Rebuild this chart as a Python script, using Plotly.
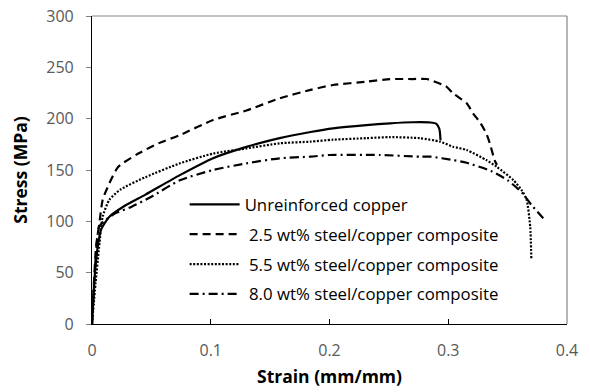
import plotly.graph_objects as go

# Tensile stress-strain curves
strain_cu = [0, 0.002, 0.0048, 0.0076, 0.0146, 0.026, 0.045, 0.074, 0.102, 0.130,
             0.158, 0.184, 0.203, 0.231, 0.251, 0.27, 0.285, 0.290, 0.2925, 0.2935]
stress_cu = [0, 43, 75, 92, 104.5, 114, 126, 145, 161.5, 172.5,
             181, 187, 190.6, 193.8, 195.5, 196.5, 196.3, 195, 190, 179]

strain_25 = [0, 0.0034, 0.0062, 0.009, 0.0146, 0.022, 0.039, 0.056, 0.074, 0.102,
             0.130, 0.158, 0.184, 0.203, 0.231, 0.251, 0.27, 0.282, 0.2987, 0.304,
             0.3155, 0.321, 0.327, 0.332, 0.335, 0.339, 0.341]
stress_25 = [0, 75, 98, 121, 137, 153, 166, 176, 184, 198.7,
             208, 219.8, 228, 232.8, 236, 238.5, 238.6, 238.6, 231, 224.7,
             215, 205, 196, 185.7, 176, 159.7, 155]

strain_55 = [0, 0.003, 0.006, 0.009, 0.0146, 0.024, 0.045, 0.074, 0.102, 0.130,
             0.158, 0.184, 0.203, 0.231, 0.251, 0.276, 0.293, 0.304, 0.3155, 0.332,
             0.341, 0.355, 0.362, 0.366, 0.369, 0.370]
stress_55 = [0, 40, 75, 104.5, 121, 131, 143, 156.5, 166, 171,
             176, 177.6, 179.5, 181, 182, 181, 177.6, 172.7, 169.5, 159.7,
             153, 140, 130, 121, 94.8, 62.3]

strain_80 = [0, 0.0034, 0.006, 0.01, 0.02, 0.033, 0.05, 0.074, 0.102, 0.130,
             0.158, 0.184, 0.2, 0.2425, 0.276, 0.285, 0.304, 0.3155, 0.336, 0.35,
             0.362, 0.37, 0.38]
stress_80 = [0, 69, 94.8, 100, 108, 114, 124, 140, 150, 156.5,
             161.4, 163, 164.6, 164.6, 163, 163, 159.7, 157, 149, 140,
             128, 116, 103]

series_names = ["Unreinforced copper",
                "\u00a02.5 wt% steel/copper composite",
                "\u00a05.5 wt% steel/copper composite",
                "\u00a08.0 wt% steel/copper composite"]

x_ticks = [0, 0.1, 0.2, 0.3, 0.4]
x_tick_text = ["0", "0.1", "0.2", "0.3", "0.4"]
y_ticks = [0, 50, 100, 150, 200, 250, 300]

series = [
    (strain_cu, stress_cu, "solid", 2.2),
    (strain_25, stress_25, "8px,5px", 2.2),
    (strain_55, stress_55, "2px,1.6px", 2.2),
    (strain_80, stress_80, "9px,4px,2px,4px", 2.2),
]

fig = go.Figure()
for i, ((xs, ys, dash, w), name) in enumerate(zip(series, series_names)):
    fig.add_trace(go.Scatter(
        x=xs, y=ys, mode="lines", name=name, legendgroup=f"g{i}",
        line=dict(color="black", width=w, dash=dash, shape="spline", smoothing=0.6),
    ))

tick_font = dict(family="Open Sans", size=16, color="#595959")
title_font = dict(family="Open Sans", size=17.5, color="black")

fig.update_layout(
    width=590, height=392,
    margin=dict(l=92, r=23, t=16, b=68),
    paper_bgcolor="white", plot_bgcolor="white",
    font=dict(family="Open Sans", color="black"),
    showlegend=True,
    legend=dict(
        x=0.195, y=0.445, xanchor="left", yanchor="top",
        bgcolor="rgba(0,0,0,0)", font=dict(family="Open Sans", size=16.8, color="black"),
        traceorder="grouped", tracegroupgap=5, itemwidth=50,
    ),
    xaxis=dict(
        range=[0, 0.4], tickvals=x_ticks, ticktext=x_tick_text, automargin=False,
        showgrid=False, zeroline=False, showline=True, linecolor="black", linewidth=1.2,
        ticks="inside", ticklen=5, tickcolor="black", tickfont=tick_font,
        ticklabelstandoff=12,
        title=dict(text="<b>Strain (mm/mm)</b>", font=title_font, standoff=10),
    ),
    yaxis=dict(
        range=[0, 300], tickvals=y_ticks, automargin=False,
        showgrid=False, zeroline=False, showline=True, linecolor="black", linewidth=1.2,
        ticks="outside", ticklen=5, tickcolor="#808080", tickfont=tick_font,
        ticklabelstandoff=9,
        title=dict(text="<b>Stress (MPa)</b>", font=title_font, standoff=14),
    ),
    shapes=[
        dict(type="line", xref="paper", yref="paper", x0=0, x1=1, y0=1, y1=1,
             line=dict(color="#858585", width=1.2)),
        dict(type="line", xref="paper", yref="paper", x0=1, x1=1, y0=0, y1=1,
             line=dict(color="#858585", width=1.2)),
    ],
)

fig.write_html("out.html")
